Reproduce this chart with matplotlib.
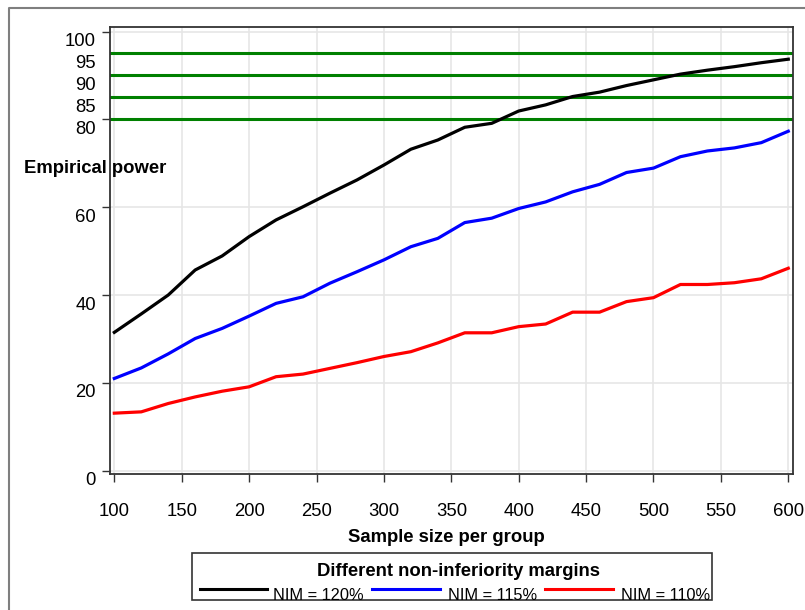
import matplotlib
matplotlib.use('Agg')
import matplotlib.pyplot as plt
from matplotlib.lines import Line2D
from matplotlib.patches import Rectangle
from matplotlib.transforms import ScaledTranslation, Bbox, TransformedBbox

plt.rcParams['font.family'] = ['Liberation Sans', 'DejaVu Sans']

# данные
sample_size = [100, 120, 140, 160, 180, 200, 220, 240, 260, 280, 300, 320, 340,
               360, 380, 400, 420, 440, 460, 480, 500, 520, 540, 560, 580, 600]
power_120 = [31.5, 35.7, 40.0, 45.7, 48.9, 53.3, 57.1, 60.1, 63.2, 66.2, 69.6, 73.2, 75.3,
             78.2, 79.1, 81.9, 83.3, 85.2, 86.2, 87.7, 89.0, 90.3, 91.2, 92.0, 92.9, 93.7]
power_115 = [21.0, 23.4, 26.6, 30.1, 32.4, 35.2, 38.1, 39.6, 42.7, 45.3, 48.0, 51.0, 52.9,
             56.5, 57.5, 59.7, 61.2, 63.5, 65.2, 67.9, 68.9, 71.5, 72.8, 73.5, 74.7, 77.3]
power_110 = [13.1, 13.4, 15.3, 16.8, 18.1, 19.1, 21.4, 22.0, 23.3, 24.6, 26.0, 27.1, 29.1,
             31.4, 31.4, 32.8, 33.4, 36.1, 36.1, 38.5, 39.4, 42.4, 42.4, 42.8, 43.7, 46.1]
ref_levels = [80, 85, 90, 95]
series_labels = ['NIM = 120%', 'NIM = 115%', 'NIM = 110%']
series_colors = ['black', '#0000ff', '#ff0000']

W, H = 805, 610
fig = plt.figure(figsize=(W / 100, H / 100), dpi=100)


def fx(px):
    return px / W


def fy(py):
    return 1 - py / H


ax = fig.add_axes([fx(110), fy(474.3), fx(793) - fx(110), fy(26.7) - fy(474.3)])

fs = 13.3
frame_col = '#333333'

for lev in ref_levels:
    ax.axhline(lev, color='#008000', linewidth=2.2, zorder=2)

for vals, col in zip([power_120, power_115, power_110], series_colors):
    ax.plot(sample_size, vals, color=col, linewidth=2.3, zorder=3)

ax.set_xlim(96.8, 603.5)
ax.set_ylim(-0.82, 101.1)
ax.set_xticks(range(100, 601, 50))
ax.set_yticks([0, 20, 40, 60, 80, 100])
ax.set_yticks([85, 90, 95], minor=True)
ax.set_yticklabels(['85', '90', '95'], minor=True)

ax.grid(True, which='major', color='#e6e6e6', linewidth=1.2, zorder=0)
ax.set_axisbelow(True)

for sp in ax.spines.values():
    sp.set_color(frame_col)
    sp.set_linewidth(1.3)

ax.tick_params(axis='both', which='major', direction='out', length=6,
               width=1.0, color=frame_col, labelsize=fs)
ax.tick_params(axis='x', pad=15)
ax.tick_params(axis='y', pad=4)
ax.tick_params(axis='y', which='minor', length=0, pad=10, labelsize=fs)

# подписи оси Y немного ниже своих делений
off = ScaledTranslation(0, -8 / 100, fig.dpi_scale_trans)
for lab in ax.get_yticklabels(which='both'):
    lab.set_transform(lab.get_transform() + off)

ax.set_xlabel('Sample size per group', fontsize=fs, fontweight='bold', va='center')
ax.xaxis.set_label_coords((446 - 110) / 683, (474.3 - 538) / 447.6)
ax.set_ylabel('Empirical power', fontsize=fs, fontweight='bold', rotation=0,
              ha='left', va='center')
ax.yaxis.set_label_coords((24 - 110) / 683, (474.3 - 169) / 447.6)

# легенда
box = Rectangle((fx(192), fy(600)), fx(712) - fx(192), fy(553) - fy(600),
                transform=fig.transFigure, facecolor='none', edgecolor=frame_col,
                linewidth=1.2)
fig.add_artist(box)
fig.text(fx(458), fy(572), 'Different non-inferiority margins', fontsize=fs,
         fontweight='bold', ha='center', va='center')
clip = TransformedBbox(Bbox([[fx(192), fy(600)], [fx(712), fy(553)]]), fig.transFigure)
line_x = [(200, 267), (372, 440), (545, 613)]
text_x = [273, 448, 621]
for (x0, x1), tx, lab, col in zip(line_x, text_x, series_labels, series_colors):
    fig.add_artist(Line2D([fx(x0), fx(x1)], [fy(589), fy(589)], transform=fig.transFigure,
                          color=col, linewidth=2.2))
    t = fig.text(fx(tx), fy(600.5), lab, fontsize=11.8, ha='left', va='baseline')
    t.set_clip_box(clip)
    t.set_clip_on(True)

# серая рамка снаружи
fig.add_artist(Line2D([fx(8.5), fx(8.5), fx(806)], [fy(611), fy(7.5), fy(7.5)],
                      transform=fig.transFigure, color='#7f7f7f', linewidth=1.5))

fig.savefig('out.png', dpi=100)
